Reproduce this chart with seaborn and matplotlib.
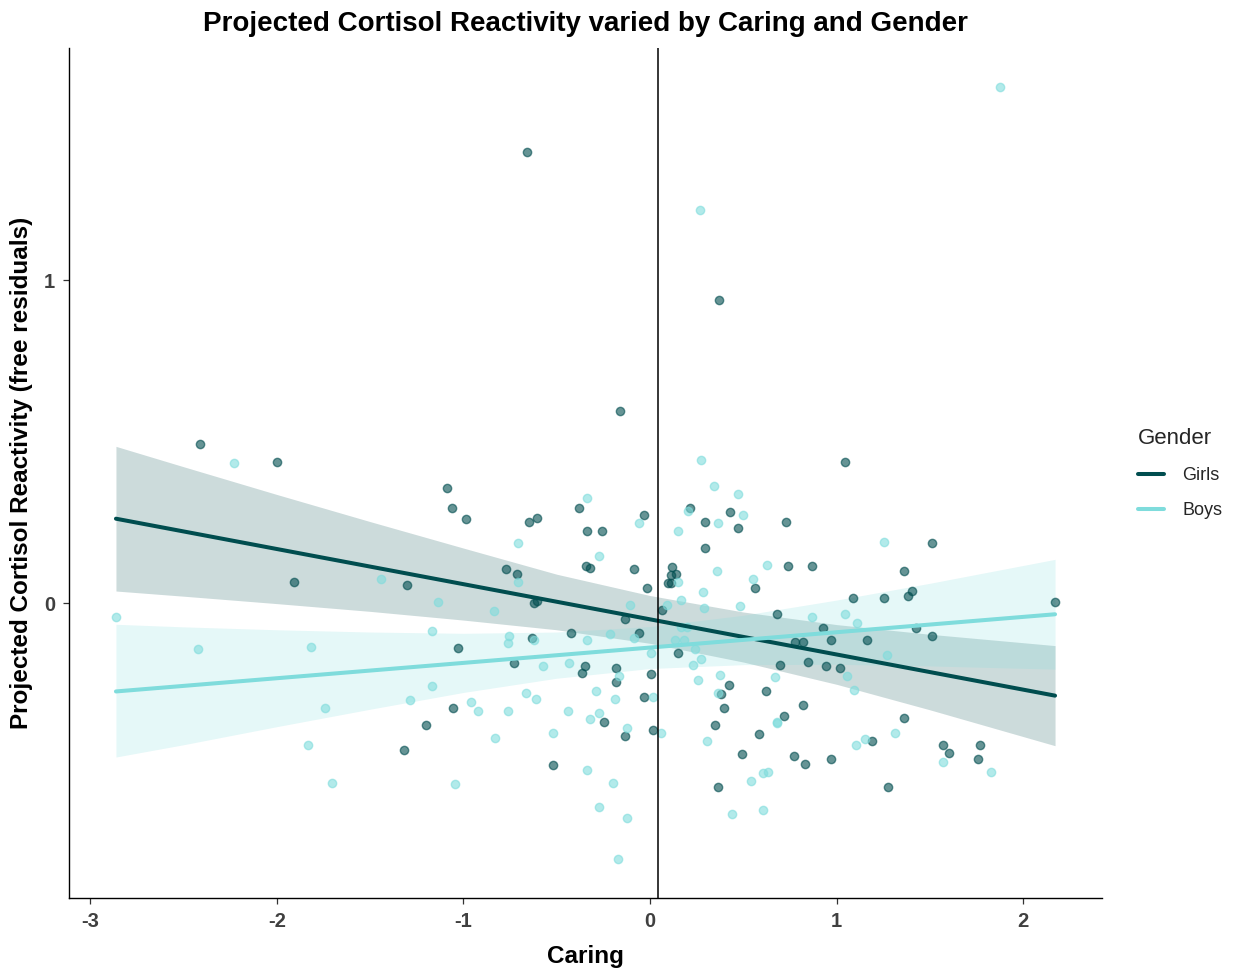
import numpy as np
import pandas as pd
import matplotlib
matplotlib.use("Agg")
import matplotlib.pyplot as plt
from matplotlib.lines import Line2D
import seaborn as sns

# ---------------- data ----------------
girls_x = [-2.413, -1.998, -1.907, -1.087, -1.062, -0.987, -1.303, -1.028, -0.772, -0.713,
           -0.649, -0.606, -0.620, -0.606, -0.631, -0.729, -0.381, -0.340, -0.257, -0.342,
           -0.322, -0.424, -0.349, -0.182, -0.034, -0.084, -0.018, -0.132, -0.059, 0.066,
           0.116, 0.111, 0.141, 0.097, 0.114, 0.216, 0.297, 0.297, 0.148, 0.429,
           1.046, 0.472, 0.731, 1.508, 0.738, 0.870, 0.563, 1.358, 1.401, 1.383,
           1.087, 1.251, 2.170, 0.679, 0.928, 1.426, 0.779, 0.820, 0.969, 1.160,
           1.508, 0.695, 0.846, 0.945, 1.019, 0.422, 0.620, 0.820, 0.720, 1.358,
           1.187, 0.581, 0.490, 0.770, 0.829, 0.971, 1.568, 1.600, 1.766, 1.757,
           1.276, -0.367, -0.182, 0.007, 0.381, 0.398, 0.347, 0.365, -1.055, -1.203,
           -1.319, -0.522, -0.248, -0.032, -0.132, 0.018, -0.661, 0.367, -0.163]
girls_y = [0.492, 0.439, 0.067, 0.358, 0.296, 0.262, 0.058, -0.139, 0.105, 0.092,
           0.253, 0.263, 0.001, 0.007, -0.109, -0.186, 0.296, 0.224, 0.224, 0.115,
           0.109, -0.091, -0.193, -0.201, 0.272, 0.105, 0.047, -0.048, -0.091, -0.021,
           0.111, 0.087, 0.092, 0.063, 0.063, 0.296, 0.253, 0.172, -0.153, 0.282,
           0.439, 0.234, 0.253, 0.186, 0.115, 0.115, 0.047, 0.100, 0.038, 0.024,
           0.015, 0.015, 0.005, -0.034, -0.076, -0.076, -0.119, -0.119, -0.114, -0.114,
           -0.100, -0.190, -0.181, -0.195, -0.201, -0.253, -0.272, -0.315, -0.349, -0.354,
           -0.425, -0.406, -0.468, -0.472, -0.497, -0.483, -0.439, -0.464, -0.439, -0.483,
           -0.568, -0.215, -0.244, -0.219, -0.282, -0.325, -0.378, -0.568, -0.325, -0.378,
           -0.454, -0.501, -0.367, -0.291, -0.410, -0.392, 1.399, 0.940, 0.597]

boys_x = [-2.230, -1.444, -2.862, -2.422, -1.816, -1.137, -0.838, -1.171, -0.706, -0.706,
          -0.754, -0.763, -0.620, -0.340, -0.275, -0.340, -0.436, -0.572, -0.059, -0.106,
          -0.213, -0.084, 0.007, 0.089, 0.148, 0.148, 0.205, 0.273, 0.340, 0.363,
          0.356, 0.281, 0.166, 0.290, 0.166, 0.197, 0.132, 0.182, 0.243, 0.273,
          0.232, 0.472, 0.497, 1.251, 0.629, 0.554, 0.481, 0.870, 1.046, 1.110,
          1.267, 1.053, 1.094, 0.672, 0.679, 0.681, 1.310, 1.153, 1.103, 1.568,
          1.825, 0.604, 0.631, 0.540, 0.440, 0.606, 0.374, -0.164, 0.255, 0.365,
          0.306, -1.169, -1.285, -0.962, -0.921, -0.763, -0.829, -0.663, -0.613, -0.440,
          -0.522, -1.044, -0.290, -0.273, -0.323, -0.190, 0.018, -0.123, 0.059, -0.340,
          -0.198, -0.273, -0.123, -0.173, -1.741, -1.832, -1.707, 1.873, 0.267]
boys_y = [0.434, 0.076, -0.043, -0.143, -0.135, 0.005, -0.024, -0.085, 0.186, 0.067,
          -0.100, -0.124, -0.115, 0.325, 0.148, -0.114, -0.186, -0.193, 0.248, -0.005,
          -0.096, -0.106, -0.153, -0.005, 0.067, 0.224, 0.286, 0.444, 0.363, 0.248,
          0.100, 0.034, 0.010, -0.014, -0.072, -0.073, -0.115, -0.115, -0.143, -0.172,
          -0.190, 0.340, 0.273, 0.190, 0.119, 0.076, -0.009, -0.043, -0.034, -0.062,
          -0.161, -0.224, -0.267, -0.229, -0.367, -0.372, -0.401, -0.420, -0.439, -0.492,
          -0.521, -0.525, -0.521, -0.549, -0.654, -0.640, -0.223, -0.224, -0.239, -0.277,
          -0.425, -0.257, -0.300, -0.306, -0.334, -0.334, -0.416, -0.277, -0.296, -0.334,
          -0.401, -0.559, -0.272, -0.339, -0.358, -0.296, -0.291, -0.387, -0.401, -0.515,
          -0.555, -0.631, -0.664, -0.793, -0.325, -0.440, -0.555, 1.600, 1.217]

# fitted lines (end points) and confidence bands
fit_x = [-2.862, 2.170]
girls_fit = [0.262, -0.286]
boys_fit = [-0.273, -0.034]

band_x = [-2.862, -2.5, -2.0, -1.5, -1.0, -0.5, 0.0, 0.5, 1.0, 1.5, 2.170]
girls_upper = [0.486, 0.423, 0.337, 0.253, 0.171, 0.090, 0.024, -0.027, -0.066, -0.096, -0.131]
girls_lower = [0.038, 0.022, -0.001, -0.025, -0.052, -0.082, -0.124, -0.182, -0.251, -0.330, -0.441]
boys_upper = [-0.065, -0.073, -0.082, -0.089, -0.093, -0.089, -0.072, -0.037, 0.010, 0.062, 0.136]
boys_lower = [-0.476, -0.438, -0.382, -0.328, -0.276, -0.232, -0.202, -0.190, -0.189, -0.194, -0.204]

genders = ["Girls", "Boys"]
colors = {"Girls": "#004D4F", "Boys": "#7FDCDC"}
vline_x = 0.042

df = pd.DataFrame({
    "Caring": girls_x + boys_x,
    "Cortisol": girls_y + boys_y,
    "Gender": ["Girls"] * len(girls_x) + ["Boys"] * len(boys_x),
})
fits = pd.DataFrame({
    "Caring": fit_x * 2,
    "Cortisol": girls_fit + boys_fit,
    "Gender": ["Girls"] * 2 + ["Boys"] * 2,
})
bands = {"Girls": (girls_lower, girls_upper), "Boys": (boys_lower, boys_upper)}

# ---------------- figure ----------------
sns.set_theme(style="white")
plt.rcParams["font.family"] = ["Liberation Sans", "DejaVu Sans"]
plt.rcParams["axes.unicode_minus"] = False

fig = plt.figure(figsize=(12.38, 9.72), dpi=100)
ax = fig.add_axes([69 / 1238, 1 - 898 / 972, (1102 - 69) / 1238, (898 - 48) / 972])

for g in genders:
    lo, hi = bands[g]
    ax.fill_between(band_x, lo, hi, color=colors[g], alpha=0.2, linewidth=0, zorder=1)

for g in genders:
    sub = df[df["Gender"] == g]
    sns.scatterplot(data=sub, x="Caring", y="Cortisol", color=colors[g], s=36,
                    alpha=0.6, edgecolor=colors[g], linewidth=1.0, legend=False,
                    ax=ax, zorder=2)

sns.lineplot(data=fits, x="Caring", y="Cortisol", hue="Gender", hue_order=genders,
             palette=colors, lw=2.9, legend=False, ax=ax, zorder=4)

ax.axvline(vline_x, color="black", lw=1.1, zorder=5)

xmin, xmax = df["Caring"].min(), df["Caring"].max()
ymin, ymax = df["Cortisol"].min(), df["Cortisol"].max()
dx = (xmax - xmin) * 0.05
dy = (ymax - ymin) * 0.05
ax.set_xlim(xmin - dx, xmax + dx)
ax.set_ylim(ymin - dy, ymax + dy)
ax.set_xticks([-3, -2, -1, 0, 1, 2])
ax.set_yticks([0, 1])

for side in ["top", "right"]:
    ax.spines[side].set_visible(False)
for side in ["left", "bottom"]:
    ax.spines[side].set_color("black")
    ax.spines[side].set_linewidth(1.0)
ax.tick_params(axis="both", which="both", length=4, width=0.9, color="#333333",
               labelsize=14.5, labelcolor="#404040", bottom=True, left=True, pad=6)
for lab in ax.get_xticklabels() + ax.get_yticklabels():
    lab.set_fontweight("bold")

ax.set_xlabel("Caring", fontsize=17.5, fontweight="bold", color="black", labelpad=10)
ax.set_ylabel("Projected Cortisol Reactivity (free residuals)", fontsize=17.5,
              fontweight="bold", color="black", labelpad=8)
ax.set_title("Projected Cortisol Reactivity varied by Caring and Gender",
             fontsize=20, fontweight="bold", color="black", pad=12)

handles = [Line2D([0], [0], color=colors[g], lw=2.9) for g in genders]
leg = fig.legend(handles, genders, title="Gender", loc="upper left",
                 bbox_to_anchor=(1122 / 1238, 1 - 412 / 972), frameon=False,
                 fontsize=13, title_fontsize=16, handlelength=1.45,
                 handletextpad=1.0, labelspacing=1.0, alignment="left")

fig.savefig("out.png", dpi=100, facecolor="white")
